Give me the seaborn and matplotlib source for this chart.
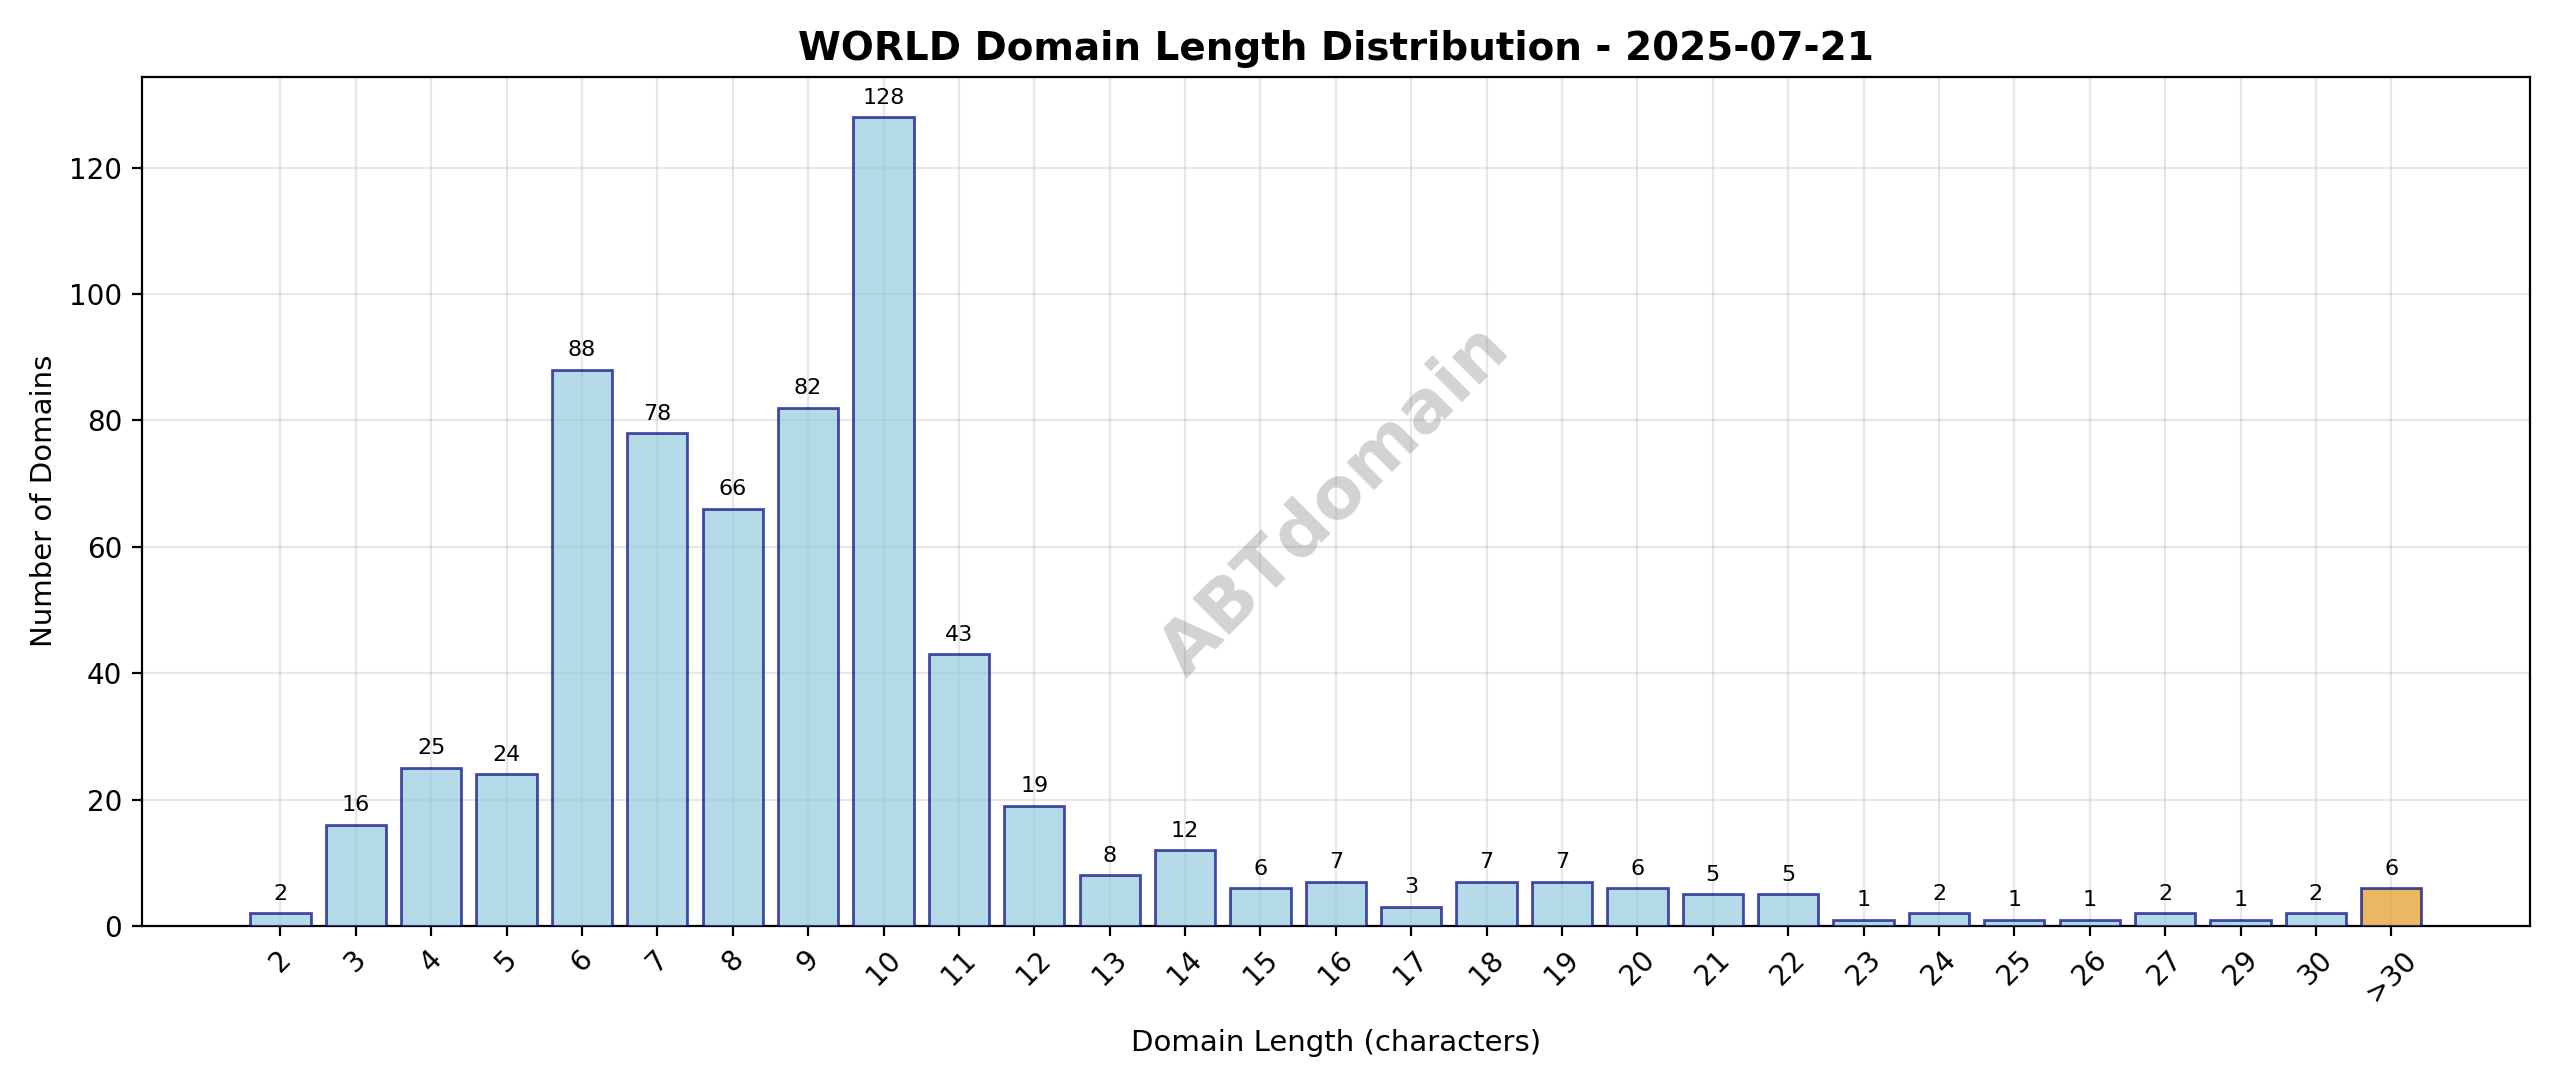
import matplotlib
matplotlib.use("Agg")
import matplotlib.pyplot as plt
import seaborn as sns
import pandas as pd

lengths = ["2","3","4","5","6","7","8","9","10","11","12","13","14","15","16","17","18","19","20","21","22","23","24","25","26","27","29","30",">30"]
counts = [2,16,25,24,88,78,66,82,128,43,19,8,12,6,7,3,7,7,6,5,5,1,2,1,1,2,1,2,6]

df = pd.DataFrame({"length": lengths, "count": counts})
df["grp"] = ["over" if l == ">30" else "normal" for l in lengths]

fig, ax = plt.subplots(figsize=(12.8, 5.435), dpi=200)
sns.barplot(data=df, x="length", y="count", hue="grp", dodge=False,
            palette={"normal": "skyblue", "over": "orange"}, legend=False,
            width=0.8, ax=ax, zorder=3)
for p in ax.patches:
    p.set_alpha(0.7)
    p.set_edgecolor((0, 0, 0.5, 0.7))
    p.set_linewidth(1)
for i, c in enumerate(counts):
    ax.text(i, c + 1.5, str(c), ha="center", va="bottom", fontsize=8)

n = len(lengths)
span = (n - 1) + 0.8
ax.set_xlim(-0.4 - 0.05 * span, n - 1 + 0.4 + 0.05 * span)
ax.set_ylim(0, 134.4)
ax.grid(True, alpha=0.3, zorder=0)
ax.set_axisbelow(True)
ax.tick_params(axis="x", rotation=45)
ax.set_xlabel("Domain Length (characters)", fontsize=10.5, labelpad=8)
ax.set_ylabel("Number of Domains", fontsize=10.5)
ax.set_title("WORLD Domain Length Distribution - 2025-07-21", fontsize=14, fontweight="bold")
ax.text(0.5, 0.5, "ABTdomain", transform=ax.transAxes, fontsize=26, fontweight="bold",
        color="gray", alpha=0.35, rotation=45, ha="center", va="center")
plt.tight_layout()
fig.savefig("out.png", dpi=200)
